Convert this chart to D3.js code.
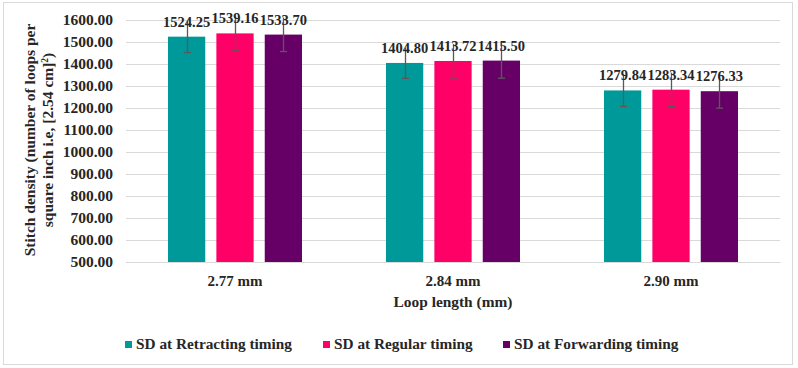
<!DOCTYPE html>
<meta charset="utf-8">
<title>Stitch density</title>
<style>
    body { margin: 0; background: #fff; }
    svg { display: block; font-family: "Liberation Serif", "Times New Roman", serif; font-weight: bold; }
    .grid line { stroke: #d9d9d9; stroke-width: 1px; }
</style>
<body>
<div id="my_chart"></div>
<script src="https://d3js.org/d3.v7.min.js"></script>
<script>
    // data
    var categories = ["2.77 mm", "2.84 mm", "2.90 mm"];
    var seriesNames = ["SD at Retracting timing", "SD at Regular timing", "SD at Forwarding timing"];
    var retracting = [1524.25, 1404.80, 1279.84];
    var regular = [1539.16, 1413.72, 1283.34];
    var forwarding = [1533.70, 1415.50, 1276.33];
    var errRetracting = [72, 70, 73];
    var errRegular = [76, 77, 77];
    var errForwarding = [77, 80, 77];
    var yTicks = [500, 600, 700, 800, 900, 1000, 1100, 1200, 1300, 1400, 1500, 1600];
    var colors = ["#009999", "#ff0066", "#660066"];

    var values = [retracting, regular, forwarding];
    var errors = [errRetracting, errRegular, errForwarding];

    var W = 798, H = 368;
    var plotL = 126, plotR = 780, plotT = 20, plotB = 262;

    var svg = d3.select("#my_chart").append("svg")
        .attr("width", W).attr("height", H);

    // chart frame
    svg.append("rect")
        .attr("x", 3.5).attr("y", 2.5)
        .attr("width", 789).attr("height", 362)
        .attr("fill", "#fff").attr("stroke", "#d9d9d9");

    var x0 = d3.scaleBand().domain(categories).range([plotL, plotR]);
    var x1 = d3.scaleBand().domain(d3.range(3)).range([42, 176]).paddingInner(0.23);
    var y = d3.scaleLinear().domain([500, 1600]).range([plotB, plotT]);

    // gridlines
    svg.append("g").attr("class", "grid")
        .selectAll("line").data(yTicks).join("line")
        .attr("x1", plotL).attr("x2", plotR)
        .attr("y1", function (d) { return Math.round(y(d)) + 0.5; })
        .attr("y2", function (d) { return Math.round(y(d)) + 0.5; });

    // y axis labels
    var yAxis = svg.append("g")
        .attr("transform", "translate(" + (plotL - 13) + ",0)")
        .call(d3.axisLeft(y).tickValues(yTicks).tickSize(0).tickPadding(0)
            .tickFormat(function (d) { return d3.format(".2f")(d); }));
    yAxis.select(".domain").remove();
    yAxis.selectAll("text")
        .attr("font-family", "Liberation Serif").attr("font-weight", "bold")
        .attr("font-size", "15.5px").attr("fill", "#262626");

    // bars
    var rows = [];
    categories.forEach(function (c, i) {
        for (var s = 0; s < 3; s++) {
            rows.push({ cat: c, s: s, v: values[s][i], e: errors[s][i] });
        }
    });

    var g = svg.append("g");
    g.selectAll("rect.bar").data(rows).join("rect")
        .attr("class", "bar")
        .attr("x", function (d) { return x0(d.cat) + x1(d.s); })
        .attr("width", x1.bandwidth())
        .attr("y", function (d) { return y(d.v); })
        .attr("height", function (d) { return y(500) - y(d.v); })
        .attr("fill", function (d) { return colors[d.s]; });

    // error bars
    var cx = function (d) { return Math.round(x0(d.cat) + x1(d.s) + x1.bandwidth() / 2) + 0.5; };
    var eb = g.selectAll("g.err").data(rows).join("g").attr("class", "err")
        .attr("stroke", "#595959").attr("stroke-width", 1.3);
    eb.append("line")
        .attr("x1", cx).attr("x2", cx)
        .attr("y1", function (d) { return y(d.v + d.e); })
        .attr("y2", function (d) { return y(d.v - d.e); });
    eb.append("line")
        .attr("x1", function (d) { return cx(d) - 3.5; })
        .attr("x2", function (d) { return cx(d) + 3.5; })
        .attr("y1", function (d) { return y(d.v - d.e); })
        .attr("y2", function (d) { return y(d.v - d.e); });

    // value labels
    g.selectAll("text.lbl").data(rows).join("text")
        .attr("class", "lbl")
        .attr("x", function (d) { return x0(d.cat) + x1(d.s) + x1.bandwidth() / 2; })
        .attr("y", function (d) { return y(d.v) - 10; })
        .attr("text-anchor", "middle")
        .attr("font-size", "14.5px").attr("fill", "#262626")
        .text(function (d) { return d3.format(".2f")(d.v); });

    // x axis labels
    var xAxis = svg.append("g")
        .attr("transform", "translate(0," + plotB + ")")
        .call(d3.axisBottom(x0).tickSize(0).tickPadding(0));
    xAxis.select(".domain").attr("stroke", "#d9d9d9");
    xAxis.selectAll("text")
        .attr("y", 24).attr("dy", null)
        .attr("font-family", "Liberation Serif").attr("font-weight", "bold")
        .attr("font-size", "15px").attr("fill", "#262626");

    // x axis title
    svg.append("text")
        .attr("x", (plotL + plotR) / 2).attr("y", 307)
        .attr("text-anchor", "middle")
        .attr("font-size", "15.4px").attr("fill", "#262626")
        .text("Loop length (mm)");

    // y axis title
    var yt = svg.append("text")
        .attr("transform", "translate(35," + ((plotT + plotB) / 2 - 1) + ") rotate(-90)")
        .attr("text-anchor", "middle")
        .attr("font-size", "15.5px").attr("fill", "#262626");
    yt.append("tspan").attr("x", 0).attr("y", 0).text("Stitch density (number of loops per");
    var t2 = yt.append("tspan").attr("x", 0).attr("y", 17.5).text("square inch i.e, [2.54 cm]");
    t2.append("tspan").attr("dy", -5).attr("font-size", "9.5px").text("2");
    t2.append("tspan").attr("dy", 5).text(")");

    // legend
    var legendX = [125, 323, 503];
    var leg = svg.append("g").selectAll("g").data(seriesNames).join("g")
        .attr("transform", function (d, i) { return "translate(" + legendX[i] + ",341)"; });
    leg.append("rect").attr("width", 7).attr("height", 7)
        .attr("fill", function (d, i) { return colors[i]; });
    leg.append("text").attr("x", 11).attr("y", 7.5)
        .attr("font-size", "15.3px").attr("fill", "#262626")
        .text(function (d) { return d; });
</script>
</body>
